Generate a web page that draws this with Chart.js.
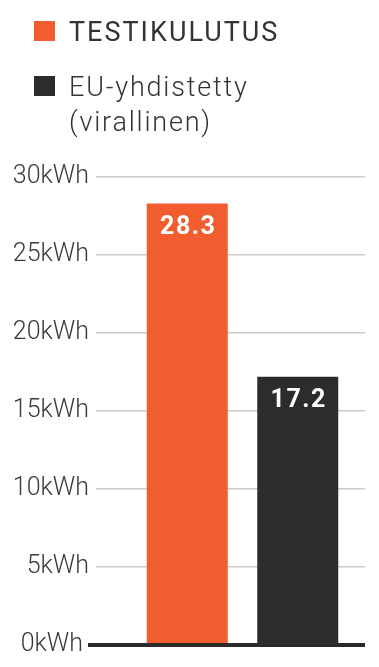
<!DOCTYPE html>
<html>
<head>
<meta charset="utf-8">
<script src="https://cdn.jsdelivr.net/npm/chart.js@4.4.0/dist/chart.umd.min.js"></script>
<style>
  html, body { margin: 0; padding: 0; background: #fff; }
  #wrap { position: relative; width: 379px; height: 667px; overflow: hidden; }
  #chart { position: absolute; left: 0; top: 0; }
  #legend { position: absolute; left: 34px; top: 15px; font-family: Roboto, "Noto Sans", sans-serif; color: #333; }
  .item { display: flex; align-items: flex-start; margin-bottom: 20px; }
  .swatch { width: 21px; height: 20px; margin-top: 6px; margin-right: 14px; flex: none; }
  .text { font-size: 27px; line-height: 35px; letter-spacing: 2px; }
  .item + .item .text { font-weight: 300; letter-spacing: 1.8px; }
</style>
</head>
<body>
<div id="wrap">
  <canvas id="chart" width="379" height="667"></canvas>
  <div id="legend"></div>
</div>
<script>
// chart data
const categories = ['TESTIKULUTUS', 'EU-yhdistetty (virallinen)'];
const legendLines = [['TESTIKULUTUS'], ['EU-yhdistetty', '(virallinen)']];
const values = [28.3, 17.2];
const colors = ['#F15D2E', '#2D2B2C'];
const yMin = 0;
const yMax = 30;
const yStep = 5;
const unit = 'kWh';

// legend as plain html
const legend = document.getElementById('legend');
legendLines.forEach((lines, i) => {
    const item = document.createElement('div');
    item.className = 'item';
    const sw = document.createElement('div');
    sw.className = 'swatch';
    sw.style.background = colors[i];
    const txt = document.createElement('div');
    txt.className = 'text';
    txt.innerHTML = lines.join('<br>');
    item.appendChild(sw);
    item.appendChild(txt);
    legend.appendChild(item);
});

// thick zero line drawn on top of the bars
const baseline = {
    id: 'baseline',
    afterDatasetsDraw(chart) {
        const y = chart.scales.y.getPixelForValue(0);
        const ctx = chart.ctx;
        ctx.save();
        ctx.strokeStyle = '#2B2B2B';
        ctx.lineWidth = 4;
        ctx.beginPath();
        ctx.moveTo(chart.chartArea.left - 32, y);
        ctx.lineTo(chart.chartArea.right, y);
        ctx.stroke();
        ctx.restore();
    }
};

// value labels inside the bars
const barLabels = {
    id: 'barLabels',
    afterDatasetsDraw(chart) {
        const ctx = chart.ctx;
        ctx.save();
        ctx.fillStyle = '#fff';
        ctx.font = 'bold 25px Roboto, sans-serif';
        ctx.letterSpacing = '1.5px';
        ctx.textAlign = 'center';
        ctx.textBaseline = 'middle';
        chart.data.datasets.forEach((ds, i) => {
            const el = chart.getDatasetMeta(i).data[0];
            ctx.fillText(values[i].toFixed(1), el.x + 1, el.y + 24);
        });
        ctx.restore();
    }
};

const ctx = document.getElementById('chart').getContext('2d');
new Chart(ctx, {
    type: 'bar',
    data: {
        labels: [''],
        datasets: categories.map((c, i) => ({
            label: c,
            data: [values[i]],
            backgroundColor: colors[i],
            categoryPercentage: 0.902,
            barPercentage: 0.733
        }))
    },
    options: {
        responsive: false,
        animation: false,
        devicePixelRatio: 1,
        layout: { padding: { top: 177, right: 14, bottom: 19, left: 0 } },
        plugins: {
            legend: { display: false },
            tooltip: { enabled: false }
        },
        scales: {
            x: { display: false },
            y: {
                min: yMin,
                max: yMax,
                afterFit(scale) { scale.width = 120; },
                border: { display: false },
                grid: {
                    color: c => c.tick && c.tick.value === 0 ? 'rgba(0,0,0,0)' : '#CBCBCB',
                    lineWidth: 1.5,
                    tickLength: 24,
                    tickColor: c => c.tick && c.tick.value === 0 ? 'rgba(0,0,0,0)' : '#CBCBCB'
                },
                ticks: {
                    stepSize: yStep,
                    padding: 7,
                    color: '#3A3A3A',
                    font: { family: 'Roboto, sans-serif', size: 25, weight: 300 },
                    // the zero label sits a little further left, clear of the base line
                    callback: v => v === 0 ? v + unit + ' ' : v + unit
                }
            }
        }
    },
    plugins: [baseline, barLabels]
});
</script>
</body>
</html>
